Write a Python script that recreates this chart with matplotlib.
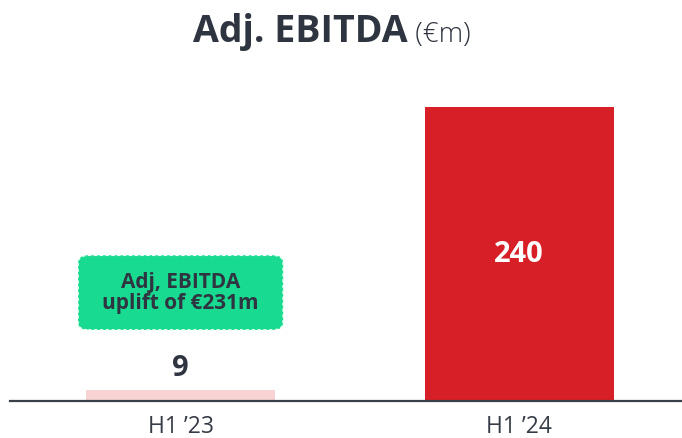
import matplotlib
matplotlib.use('Agg')
from matplotlib import pyplot as plt
from matplotlib.patches import FancyBboxPatch

plt.rcParams['font.family'] = ['Open Sans', 'DejaVu Sans']

# data
periods = ['H1 \u201923', 'H1 \u201924']
ebitda = [9, 240]
bar_colors = ['#f7d3d3', '#d71f27']
label_colors = ['#2f3540', 'white']
callout = 'Adj, EBITDA\nuplift of \u20ac231m'

dark = '#2f3540'

fig = plt.figure(figsize=(6.82, 4.38), dpi=100)
ax = fig.add_axes([10 / 682, 37 / 438, 672 / 682, 341 / 438])

x = range(len(periods))
ax.bar(x, ebitda, width=0.558, color=bar_colors, zorder=2)
ax.set_xlim(-0.504, 1.481)
ax.set_ylim(0, 278.4)

# value labels
ax.text(0, 15, str(ebitda[0]), ha='center', va='bottom', fontsize=21,
        fontweight='bold', color=label_colors[0])
ax.text(1, 120, str(ebitda[1]), ha='center', va='center', fontsize=21,
        fontweight='bold', color=label_colors[1])

# callout box
box = FancyBboxPatch((-0.303, 58), 0.606, 61,
                     boxstyle='round,pad=0,rounding_size=0.03',
                     mutation_aspect=200,
                     facecolor='#18da90', edgecolor='#e8fff4',
                     linestyle=(0, (2, 1.5)), linewidth=1.2, zorder=3)
ax.add_patch(box)
ax.text(0, 88.5, callout, ha='center', va='center', fontsize=15,
        fontweight='bold', color=dark, linespacing=1.0, zorder=4)

ax.set_xticks(list(x))
ax.set_xticklabels(periods, fontsize=16.5, color='#363c46')
ax.tick_params(axis='x', length=0, pad=10)
ax.set_yticks([])
for s in ['top', 'right', 'left']:
    ax.spines[s].set_visible(False)
ax.spines['bottom'].set_color('#3a3f48')
ax.spines['bottom'].set_linewidth(1.6)

# title: bold part + light unit
t1 = fig.text(0, 0, 'Adj. EBITDA', fontsize=27, fontweight='bold', color=dark)
t2 = fig.text(0, 0, ' (\u20acm)', fontsize=20, color=dark, fontweight='light')
fig.canvas.draw()
r = fig.canvas.get_renderer()
w1 = t1.get_window_extent(r).width
w2 = t2.get_window_extent(r).width
x0 = (332 - (w1 + w2) / 2) / 682
y0 = (438 - 42) / 438
t1.set_position((x0, y0))
t2.set_position((x0 + w1 / 682, y0))

fig.savefig('out.png', dpi=100)
